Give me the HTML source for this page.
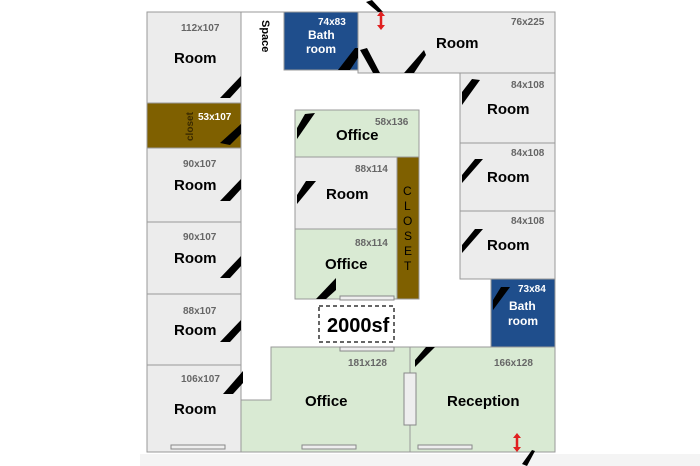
<!DOCTYPE html>
<html><head><meta charset="utf-8"><style>
body{margin:0;width:700px;height:466px;background:#fff;overflow:hidden}
svg{display:block}
text{font-family:"Liberation Sans",Arial,sans-serif;font-weight:bold}
.r{fill:#ececec;stroke:#999;stroke-width:1}
.o{fill:#d9ead3;stroke:#999;stroke-width:1}
.c{fill:#7f6000;stroke:#999;stroke-width:1}
.b{fill:#1f4e8c;stroke:#999;stroke-width:1}
.l{font-size:15px;fill:#000}
.d{font-size:10px;fill:#666}
.dw{font-size:10px;fill:#fff}
.w{fill:#eee;stroke:#888;stroke-width:1}
</style></head><body>
<svg width="700" height="466" viewBox="0 0 700 466">
<rect x="140" y="454" width="560" height="12" fill="#f4f4f4"/>
<line x1="147" y1="12" x2="555" y2="12" stroke="#999"/>
<!-- left column -->
<rect class="r" x="147" y="12" width="94" height="91"/>
<rect class="c" x="147" y="103" width="94" height="45"/>
<rect class="r" x="147" y="148" width="94" height="74"/>
<rect class="r" x="147" y="222" width="94" height="72"/>
<rect class="r" x="147" y="294" width="94" height="71"/>
<rect class="r" x="147" y="365" width="94" height="87"/>
<!-- top -->
<rect class="b" x="284" y="12" width="74" height="58"/>
<rect class="r" x="358" y="12" width="197" height="61"/>
<!-- right column -->
<rect class="r" x="460" y="73" width="95" height="70"/>
<rect class="r" x="460" y="143" width="95" height="68"/>
<rect class="r" x="460" y="211" width="95" height="68"/>
<rect class="b" x="491" y="279" width="64" height="68"/>
<!-- center -->
<rect class="o" x="295" y="110" width="124" height="47"/>
<rect class="r" x="295" y="157" width="102" height="72"/>
<rect class="c" x="397" y="157" width="22" height="142"/>
<rect class="o" x="295" y="229" width="102" height="70"/>
<rect x="319" y="306" width="75" height="36" fill="#fff" stroke="#333" stroke-width="1.5" stroke-dasharray="4,3"/>
<!-- bottom -->
<path class="o" d="M271 347 H410 V452 H241 V400 H271 Z"/>
<rect class="o" x="410" y="347" width="145" height="105"/>
<!-- windows -->
<rect class="w" x="171" y="445" width="54" height="4"/>
<rect class="w" x="302" y="445" width="54" height="4"/>
<rect class="w" x="418" y="445" width="54" height="4"/>
<rect class="w" x="340" y="296" width="54" height="4"/>
<rect class="w" x="340" y="347" width="54" height="4"/>
<rect class="w" x="404" y="373" width="12" height="52"/>
<!-- doors -->
<g fill="#000">
<polygon points="220,98 241,76 241,86 230,98"/>
<polygon points="220,143 241,124 241,134 230,145"/>
<polygon points="220,201 241,179 241,189 230,201"/>
<polygon points="220,278 241,256 241,266 230,278"/>
<polygon points="220,342 241,320 241,330 230,342"/>
<polygon points="223,394 243,371 243,383 233,394"/>
<polygon points="338,70 355,48 358,48 358,58 350,70"/>
<polygon points="360,50 367,48 380,73 373,73"/>
<polygon points="404,73 424,50 426,55 414,73"/>
<polygon points="462,105 480,80 472,79 462,92"/>
<polygon points="462,183 483,159 475,159 462,175"/>
<polygon points="462,253 483,229 475,229 462,245"/>
<polygon points="493,310 510,287 501,287 493,300"/>
<polygon points="297,139 315,113 305,114 297,128"/>
<polygon points="297,204 316,181 306,181 297,195"/>
<polygon points="316,299 336,278 336,290 326,299"/>
<polygon points="415,367 435,347 426,347 415,360"/>
<polygon points="366,2 372,0 383,12 378,12"/>
<polygon points="522,464 532,450 535,451 527,466"/>
</g>
<!-- red arrows -->
<g stroke="#e02020" stroke-width="2.5" fill="#e02020">
<line x1="381" y1="15" x2="381" y2="26"/>
<polygon points="377,16 385,16 381,11" stroke="none"/>
<polygon points="377,25 385,25 381,30" stroke="none"/>
<line x1="517" y1="437" x2="517" y2="448"/>
<polygon points="513,438 521,438 517,433" stroke="none"/>
<polygon points="513,447 521,447 517,452" stroke="none"/>
</g>
<!-- labels -->
<text class="d" x="181" y="31">112x107</text>
<text class="l" x="174" y="63">Room</text>
<text class="dw" x="198" y="120">53x107</text>
<text x="193" y="141" transform="rotate(-90 193 141)" font-size="10" fill="#3a2a00" font-weight="normal">closet</text>
<text class="d" x="183" y="167">90x107</text>
<text class="l" x="174" y="190">Room</text>
<text class="d" x="183" y="240">90x107</text>
<text class="l" x="174" y="263">Room</text>
<text class="d" x="183" y="314">88x107</text>
<text class="l" x="174" y="335">Room</text>
<text class="d" x="181" y="382">106x107</text>
<text class="l" x="174" y="414">Room</text>
<text x="262" y="20" transform="rotate(90 262 20)" font-size="11" fill="#000">Space</text>
<text class="dw" x="318" y="25">74x83</text>
<text x="308" y="39" font-size="12" fill="#fff">Bath</text>
<text x="306" y="53" font-size="12" fill="#fff">room</text>
<text class="d" x="511" y="25">76x225</text>
<text class="l" x="436" y="48">Room</text>
<text class="d" x="511" y="88">84x108</text>
<text class="l" x="487" y="114">Room</text>
<text class="d" x="511" y="156">84x108</text>
<text class="l" x="487" y="182">Room</text>
<text class="d" x="511" y="224">84x108</text>
<text class="l" x="487" y="250">Room</text>
<text class="dw" x="518" y="292">73x84</text>
<text x="509" y="310" font-size="12" fill="#fff">Bath</text>
<text x="508" y="325" font-size="12" fill="#fff">room</text>
<text class="d" x="375" y="125">58x136</text>
<text class="l" x="336" y="140">Office</text>
<text class="d" x="355" y="172">88x114</text>
<text class="l" x="326" y="199">Room</text>
<g font-size="12" fill="#000" font-weight="normal">
<text x="403" y="195" style="font-weight:normal;font-size:12px">C</text>
<text x="404" y="210" style="font-weight:normal;font-size:12px">L</text>
<text x="403" y="225" style="font-weight:normal;font-size:12px">O</text>
<text x="404" y="240" style="font-weight:normal;font-size:12px">S</text>
<text x="404" y="255" style="font-weight:normal;font-size:12px">E</text>
<text x="404" y="270" style="font-weight:normal;font-size:12px">T</text>
</g>
<text class="d" x="355" y="246">88x114</text>
<text class="l" x="325" y="269">Office</text>
<text x="327" y="332" font-size="20" fill="#000">2000sf</text>
<text class="d" x="348" y="366">181x128</text>
<text class="l" x="305" y="406">Office</text>
<text class="d" x="494" y="366">166x128</text>
<text class="l" x="447" y="406">Reception</text>
</svg>
</body></html>
